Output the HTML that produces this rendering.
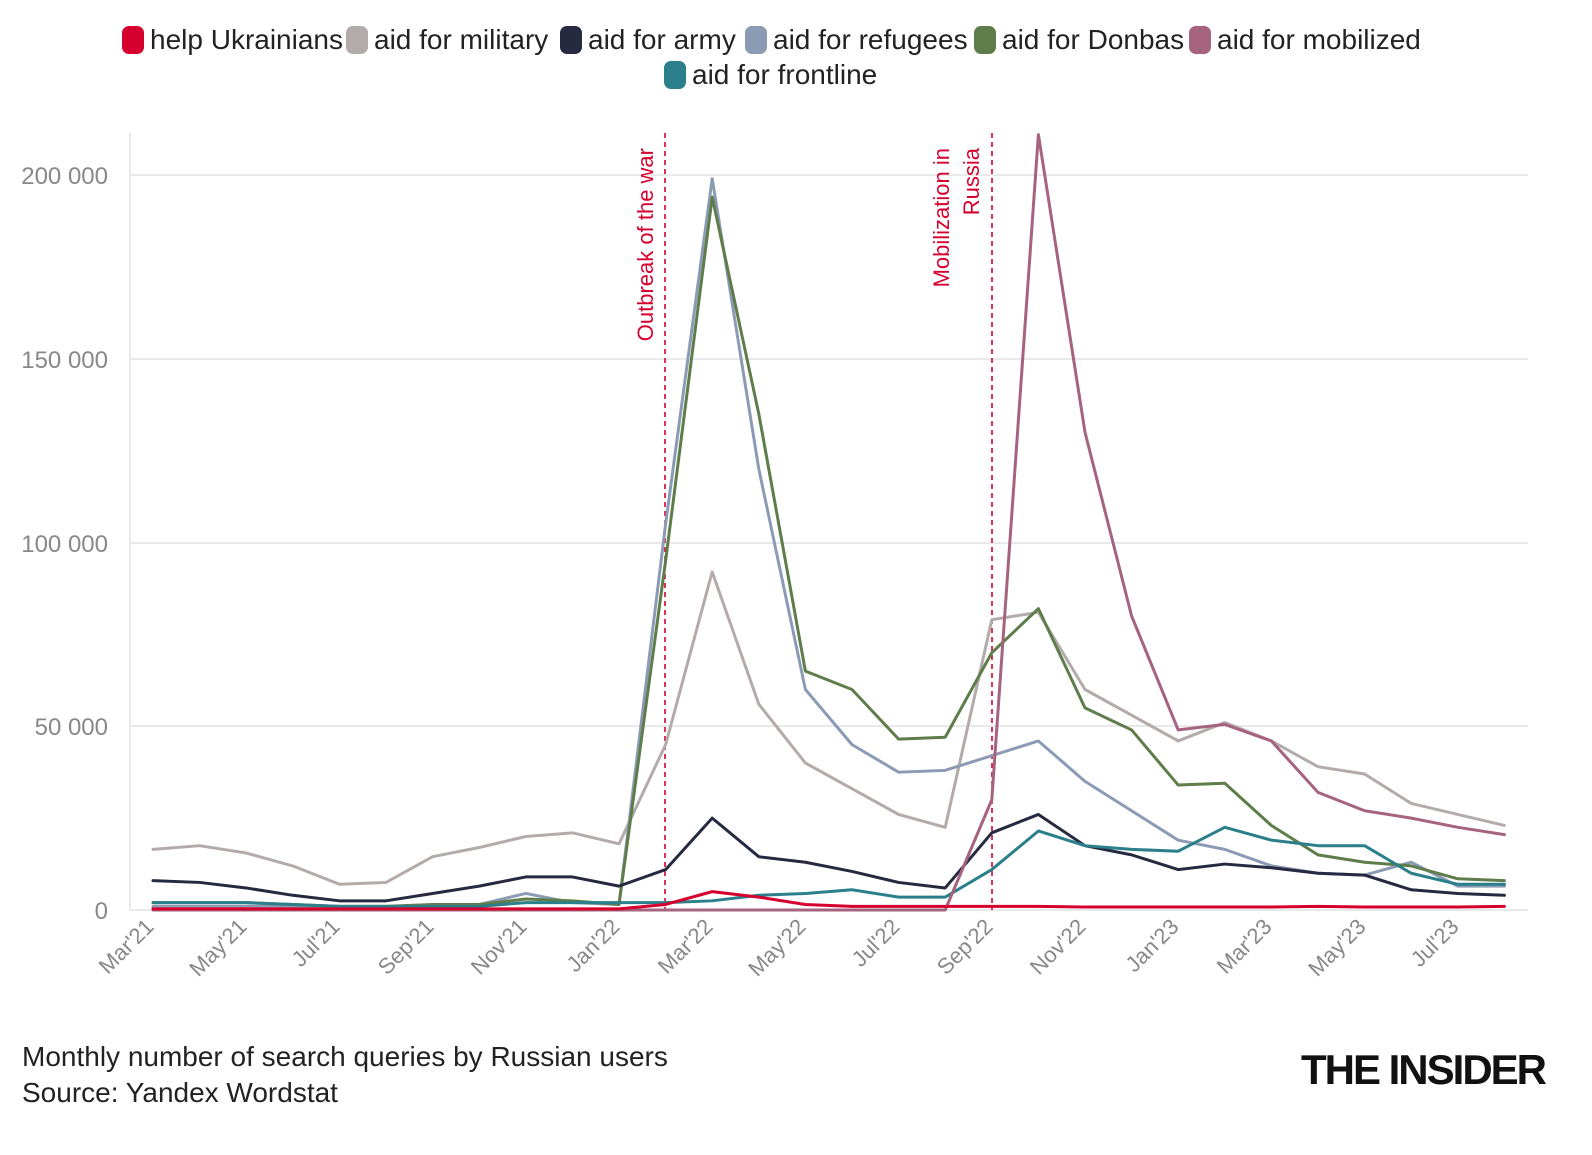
<!DOCTYPE html>
<html><head><meta charset="utf-8">
<style>
body{margin:0;background:#fff;width:1592px;height:1150px;overflow:hidden;font-family:"Liberation Sans Narrow","Liberation Sans",sans-serif;}
svg text{font-family:"Liberation Sans Narrow","Liberation Sans",sans-serif;}
polyline{fill:none;stroke-width:3;stroke-linejoin:round;stroke-linecap:round;vector-effect:non-scaling-stroke;}
</style></head><body>
<svg width="1592" height="1150" xmlns="http://www.w3.org/2000/svg">
<g font-size="28" fill="#222">
<rect x="122" y="26" width="22" height="28" rx="7" fill="#d6002f"/><text x="150" y="49">help Ukrainians</text>
<rect x="346" y="26" width="22" height="28" rx="7" fill="#b3abaa"/><text x="374" y="49">aid for military</text>
<rect x="560" y="26" width="22" height="28" rx="7" fill="#262a40"/><text x="588" y="49">aid for army</text>
<rect x="745" y="26" width="22" height="28" rx="7" fill="#8c9bb5"/><text x="773" y="49">aid for refugees</text>
<rect x="974" y="26" width="22" height="28" rx="7" fill="#5e7d4a"/><text x="1002" y="49">aid for Donbas</text>
<rect x="1189" y="26" width="22" height="28" rx="7" fill="#a5637f"/><text x="1217" y="49">aid for mobilized</text>
<rect x="664" y="61" width="22" height="28" rx="7" fill="#2a7f8a"/><text x="692" y="84">aid for frontline</text>
</g>
<g stroke="#e9e9e9" stroke-width="2">
<line x1="130" x2="1528" y1="175" y2="175"/><line x1="130" x2="1528" y1="359" y2="359"/>
<line x1="130" x2="1528" y1="543" y2="543"/><line x1="130" x2="1528" y1="726" y2="726"/>
<line x1="130" x2="1528" y1="910" y2="910"/><line x1="130" x2="130" y1="133" y2="910"/>
</g>
<g font-size="24" fill="#888" text-anchor="end">
<text x="108" y="184">200 000</text><text x="108" y="368">150 000</text><text x="108" y="552">100 000</text>
<text x="108" y="735">50 000</text><text x="108" y="919">0</text>
</g>
<g font-size="22" fill="#888" text-anchor="end">
<text transform="translate(155,928) rotate(-45)">Mar'21</text>
<text transform="translate(248,928) rotate(-45)">May'21</text>
<text transform="translate(341,928) rotate(-45)">Jul'21</text>
<text transform="translate(435,928) rotate(-45)">Sep'21</text>
<text transform="translate(528,928) rotate(-45)">Nov'21</text>
<text transform="translate(621,928) rotate(-45)">Jan'22</text>
<text transform="translate(714,928) rotate(-45)">Mar'22</text>
<text transform="translate(807,928) rotate(-45)">May'22</text>
<text transform="translate(901,928) rotate(-45)">Jul'22</text>
<text transform="translate(994,928) rotate(-45)">Sep'22</text>
<text transform="translate(1087,928) rotate(-45)">Nov'22</text>
<text transform="translate(1180,928) rotate(-45)">Jan'23</text>
<text transform="translate(1273,928) rotate(-45)">Mar'23</text>
<text transform="translate(1367,928) rotate(-45)">May'23</text>
<text transform="translate(1460,928) rotate(-45)">Jul'23</text>
</g>
<g stroke="#d6002f" stroke-width="1.6" stroke-dasharray="5,4">
<line x1="665" x2="665" y1="133" y2="910"/><line x1="992" x2="992" y1="133" y2="910"/>
</g>
<g font-size="22" fill="#d6002f" text-anchor="end">
<text transform="translate(653,148) rotate(-90)">Outbreak of the war</text>
<text transform="translate(949,148) rotate(-90)">Mobilization in</text>
<text transform="translate(979,148) rotate(-90)">Russia</text>
</g>
<g transform="translate(153,910) scale(46.6,-3.675)">
<polyline stroke="#b3abaa" points="0,16.5 1,17.5 2,15.5 3,12 4,7 5,7.5 6,14.5 7,17 8,20 9,21 10,18 11,45 12,92 13,56 14,40 15,33 16,26 17,22.5 18,79 19,81 20,60 21,53 22,46 23,51 24,46 25,39 26,37 27,29 28,26 29,23"/>
<polyline stroke="#8c9bb5" points="0,1 1,1 2,1 3,1 4,0.5 5,0.5 6,1 7,1.5 8,4.5 9,2 10,1.5 11,105 12,199 13,120 14,60 15,45 16,37.5 17,38 18,42 19,46 20,35 21,27 22,19 23,16.5 24,12 25,10 26,9.5 27,13 28,6.5 29,6.5"/>
<polyline stroke="#5e7d4a" points="0,2 1,2 2,2 3,1.5 4,1 5,1 6,1.5 7,1.5 8,3 9,2.5 10,1.5 11,95 12,194 13,135 14,65 15,60 16,46.5 17,47 18,70 19,82 20,55 21,49 22,34 23,34.5 24,23 25,15 26,13 27,12 28,8.5 29,8"/>
<polyline stroke="#262a40" points="0,8 1,7.5 2,6 3,4 4,2.5 5,2.5 6,4.5 7,6.5 8,9 9,9 10,6.5 11,11 12,25 13,14.5 14,13 15,10.5 16,7.5 17,6 18,21 19,26 20,17.5 21,15 22,11 23,12.5 24,11.5 25,10 26,9.5 27,5.5 28,4.5 29,4"/>
<polyline stroke="#2a7f8a" points="0,2 1,2 2,2 3,1.5 4,1 5,1 6,1 7,1 8,2 9,2 10,2 11,2 12,2.5 13,4 14,4.5 15,5.5 16,3.5 17,3.5 18,11 19,21.5 20,17.5 21,16.5 22,16 23,22.5 24,19 25,17.5 26,17.5 27,10 28,7 29,7"/>
<polyline stroke="#a5637f" points="0,0 1,0 2,0 3,0 4,0 5,0 6,0 7,0 8,0 9,0 10,0 11,0 12,0 13,0 14,0 15,0 16,0 17,0 18,30 19,211 20,130 21,80 22,49 23,50.5 24,46 25,32 26,27 27,25 28,22.5 29,20.5"/>
<polyline stroke="#d6002f" points="0,0.3 1,0.3 2,0.3 3,0.3 4,0.3 5,0.3 6,0.3 7,0.3 8,0.3 9,0.3 10,0.3 11,1.5 12,5 13,3.5 14,1.5 15,1 16,1 17,1 18,1 19,1 20,0.8 21,0.8 22,0.8 23,0.8 24,0.8 25,1 26,0.8 27,0.8 28,0.8 29,1"/>
</g>
<g font-size="28" fill="#222">
<text x="22" y="1066">Monthly number of search queries by Russian users</text>
<text x="22" y="1102">Source: Yandex Wordstat</text>
</g>
<text x="1545" y="1084" text-anchor="end" font-size="42" font-weight="bold" fill="#111" letter-spacing="-2" style="font-family:'Liberation Sans',sans-serif">THE INSIDER</text>
</svg>
</body></html>
